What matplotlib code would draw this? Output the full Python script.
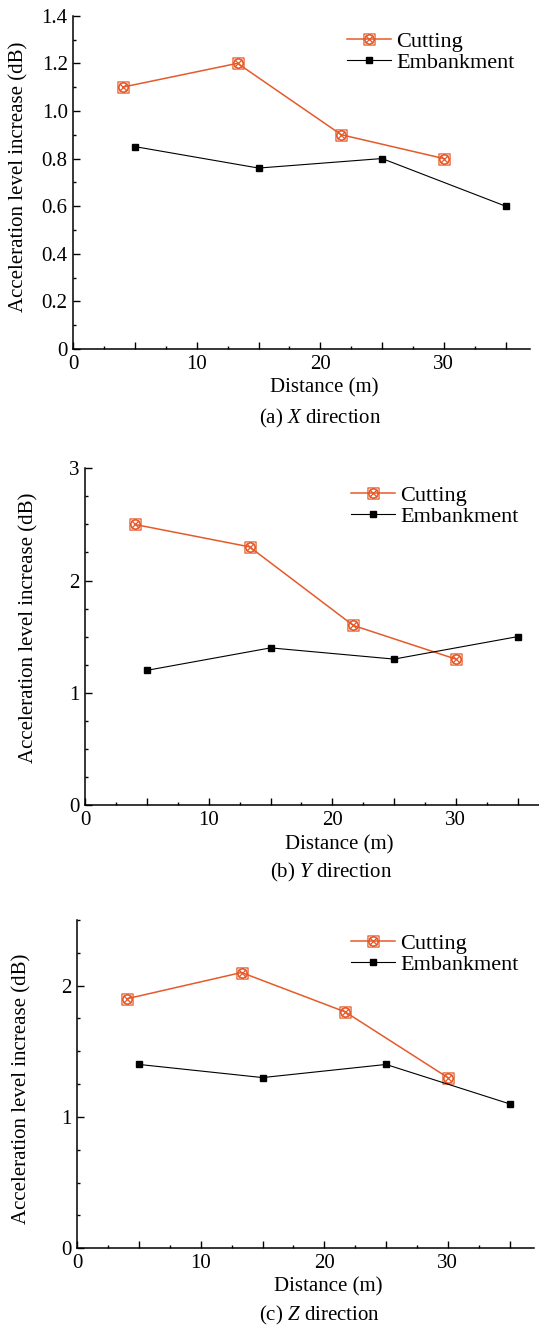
import matplotlib
import matplotlib.pyplot as plt
from matplotlib.path import Path
from matplotlib.ticker import MultipleLocator, FuncFormatter

matplotlib.use('Agg')

plt.rcParams['font.family'] = ['Liberation Serif', 'DejaVu Serif']
plt.rcParams['mathtext.fontset'] = 'custom'
plt.rcParams['mathtext.rm'] = 'Liberation Serif'
plt.rcParams['mathtext.it'] = 'Liberation Serif:italic'

# distances (m)
cut_x = [4, 13.3, 21.7, 30]
emb_x = [5, 15, 25, 35]

# acceleration level increase (dB) per direction
cut_x_dir = [1.1, 1.2, 0.9, 0.8]
emb_x_dir = [0.85, 0.76, 0.8, 0.6]
cut_y_dir = [2.5, 2.3, 1.6, 1.3]
emb_y_dir = [1.2, 1.4, 1.3, 1.5]
cut_z_dir = [1.9, 2.1, 1.8, 1.3]
emb_z_dir = [1.4, 1.3, 1.4, 1.1]

panel_tags = ['(a)', '(b)', '(c)']
directions = ['X', 'Y', 'Z']

ORANGE = '#e65a2a'
W, H = 539, 1325


# square with a crossed circle inside
def crossed_square():
    sq = Path([(-1, -1), (1, -1), (1, 1), (-1, 1), (-1, -1)],
              [Path.MOVETO, Path.LINETO, Path.LINETO, Path.LINETO, Path.CLOSEPOLY])
    circ = Path.circle((0, 0), 0.8)
    d = 0.7
    cross = Path([(-d, -d), (d, d), (-d, d), (d, -d)],
                 [Path.MOVETO, Path.LINETO, Path.MOVETO, Path.LINETO])
    return Path.make_compound_path(sq, circ, cross)


cut_marker = crossed_square()


def fmt_y(v, pos):
    if abs(v) < 1e-9:
        return '0'
    if float(v).is_integer():
        return f'{int(v)}'
    return f'{v:.1f}'


# x ticks every 5 m, labelled every 10 m
def fmt_x(v, pos):
    if round(v) % 10 == 0:
        return f'{int(round(v))}'
    return ''


# pixel layout: left, top, bottom of each axes, y limits, ticks
panels = [
    dict(left=73.3, top=15.7, bottom=349, ylim=1.4, major=0.2, minor=0.1,
         cut=cut_x_dir, emb=emb_x_dir, xl=(324, 388), sub=(320, 418), yl=(19, 177),
         leg=(347, 55)),
    dict(left=85.3, top=468.3, bottom=805, ylim=3, major=1, minor=0.25,
         cut=cut_y_dir, emb=emb_y_dir, xl=(339, 845), sub=(331, 872), yl=(29, 628),
         leg=(351, 509)),
    dict(left=77.3, top=920, bottom=1248.3, ylim=2.5, major=1, minor=0.25,
         cut=cut_z_dir, emb=emb_z_dir, xl=(328, 1287), sub=(320, 1315), yl=(22, 1089),
         leg=(351, 957)),
]

fig = plt.figure(figsize=(W / 100, H / 100), dpi=100)
xmax = 37
px_per_unit = 12.35

for i, p in enumerate(panels):
    width = xmax * px_per_unit
    ax = fig.add_axes([p['left'] / W, 1 - p['bottom'] / H, width / W, (p['bottom'] - p['top']) / H])
    ax.plot(cut_x, p['cut'], color=ORANGE, lw=1.1, marker=cut_marker, markersize=8,
            markerfacecolor='none', markeredgecolor=ORANGE, markeredgewidth=0.9,
            label='Cutting', clip_on=False)
    ax.plot(emb_x, p['emb'], color='black', lw=0.8, marker='s', markersize=5,
            label='Embankment', clip_on=False)
    ax.set_xlim(0, xmax)
    ax.set_ylim(0, p['ylim'])
    ax.xaxis.set_major_locator(MultipleLocator(5))
    ax.xaxis.set_minor_locator(MultipleLocator(2.5))
    ax.yaxis.set_major_locator(MultipleLocator(p['major']))
    ax.yaxis.set_minor_locator(MultipleLocator(p['minor']))
    ax.yaxis.set_major_formatter(FuncFormatter(fmt_y))
    ax.xaxis.set_major_formatter(FuncFormatter(fmt_x))
    for s in ['top', 'right']:
        ax.spines[s].set_visible(False)
    for s in ['left', 'bottom']:
        ax.spines[s].set_linewidth(1.1)
    ax.tick_params(which='both', direction='in', labelsize=15, width=1.0, pad=4)
    ax.tick_params(which='major', length=4.8)
    ax.tick_params(which='minor', length=2.4)

    lx, ly = p['leg']
    ax.legend(loc='upper left', bbox_to_anchor=(lx / W, 1 - (ly - 24) / H),
              bbox_transform=fig.transFigure, frameon=False, fontsize=16,
              handlelength=2.0, handletextpad=0.2, labelspacing=0.05,
              borderpad=0, borderaxespad=0)

    fig.text(p['xl'][0] / W, 1 - p['xl'][1] / H, 'Distance (m)', fontsize=15,
             ha='center', va='center')
    fig.text(p['sub'][0] / W, 1 - p['sub'][1] / H,
             f'{panel_tags[i]} $\\mathit{{{directions[i]}}}$ direction', fontsize=15,
             ha='center', va='center')
    fig.text(p['yl'][0] / W, 1 - p['yl'][1] / H, 'Acceleration level increase (dB)',
             fontsize=15, rotation=90, ha='center', va='center')

fig.savefig('out.png', dpi=100)
